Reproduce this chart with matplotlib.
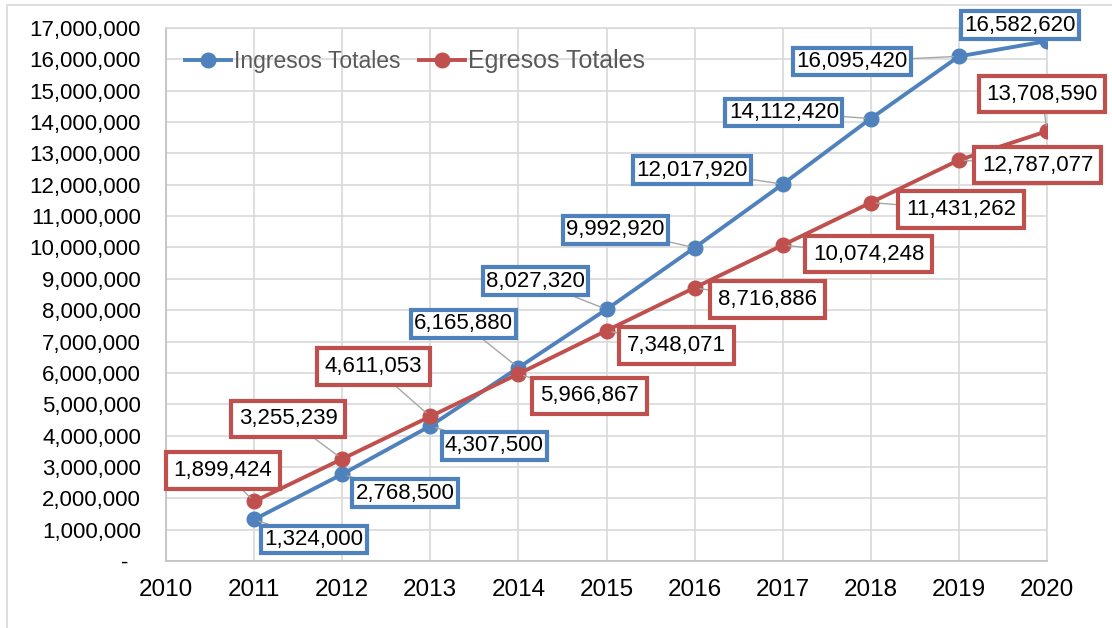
import matplotlib
matplotlib.use("Agg")
import matplotlib.pyplot as plt
from matplotlib.ticker import FuncFormatter, MultipleLocator
from matplotlib.patches import Rectangle

plt.rcParams['font.family'] = ['Liberation Sans', 'DejaVu Sans']

years = [2011, 2012, 2013, 2014, 2015, 2016, 2017, 2018, 2019, 2020]
ingresos = [1324000, 2768500, 4307500, 6165880, 8027320, 9992920, 12017920, 14112420, 16095420, 16582620]
egresos = [1899424, 3255239, 4611053, 5966867, 7348071, 8716886, 10074248, 11431262, 12787077, 13708590]
series_names = ["Ingresos Totales", "Egresos Totales"]

# label offsets in pixels (layout only)
ing_off = [(60, -20), (63, -19), (64, -20), (-55, 44), (-71, 28), (-79, 18), (-91, 14), (-87, 6), (-107, -5), (-27, 16)]
egr_off = [(-31, 31), (-54, 40), (-57, 50), (71, -22), (70, -15), (73, -12), (86, -9), (90, -7), (79, -5), (-5, 37)]

BLUE = "#4F81BD"
RED = "#C0504D"
GRID = "#D9D9D9"

fig = plt.figure(figsize=(11.12, 6.28), dpi=100)
fig.patches.append(Rectangle((7 / 1112, -0.1), 1.2, 1 - 5 / 628 + 0.1, transform=fig.transFigure,
                             fill=False, edgecolor=GRID, linewidth=1.2, zorder=0))
ax = fig.add_axes([166 / 1112, (628 - 561) / 628, (1047 - 166) / 1112, (561 - 28) / 628])

ax.plot(years, ingresos, color=BLUE, lw=2.8, marker='o', ms=10.5, label=series_names[0], zorder=3)
ax.plot(years, egresos, color=RED, lw=2.8, marker='o', ms=10.5, label=series_names[1], zorder=3)

ax.set_xlim(2010, 2020)
ax.set_ylim(0, 17000000)
ax.xaxis.set_major_locator(MultipleLocator(1))
ax.yaxis.set_major_locator(MultipleLocator(1000000))
ax.yaxis.set_major_formatter(FuncFormatter(lambda v, p: "-  " if v == 0 else f"{int(round(v)):,}"))
ax.xaxis.set_major_formatter(FuncFormatter(lambda v, p: f"{int(round(v))}"))
ax.grid(True, color=GRID, lw=1.2)
ax.set_axisbelow(True)
for s in ax.spines.values():
    s.set_color(GRID)
    s.set_linewidth(1.2)
ax.spines['left'].set_color("#BFBFBF")
ax.spines['bottom'].set_color("#BFBFBF")
ax.tick_params(axis='both', length=0, colors='black')
ax.tick_params(axis='y', labelsize=16, pad=18)
ax.tick_params(axis='x', labelsize=17.5, pad=13)


def add_labels(vals, offs, color, pad):
    for x, v, (dx, dy) in zip(years, vals, offs):
        ax.annotate(f"{v:,}", xy=(x, v), xytext=(dx, dy), textcoords='offset pixels',
                    ha='center', va='center', fontsize=16, color='black',
                    bbox=dict(boxstyle=f'square,pad={pad}', fc='white', ec=color, lw=3),
                    arrowprops=dict(arrowstyle='-', color='#A6A6A6', lw=1, shrinkA=0, shrinkB=4),
                    zorder=5)


add_labels(ingresos, ing_off, BLUE, 0.15)
add_labels(egresos, egr_off, RED, 0.35)

leg = ax.legend(loc='upper left', bbox_to_anchor=(0.003, 0.99), ncol=2, frameon=False,
                handlelength=2.0, handletextpad=0.15, columnspacing=0.8, fontsize=16.5,
                borderaxespad=0.3)
for t in leg.get_texts():
    t.set_color('#595959')
leg.get_texts()[1].set_fontsize(18)

fig.savefig("out.png", dpi=100)
